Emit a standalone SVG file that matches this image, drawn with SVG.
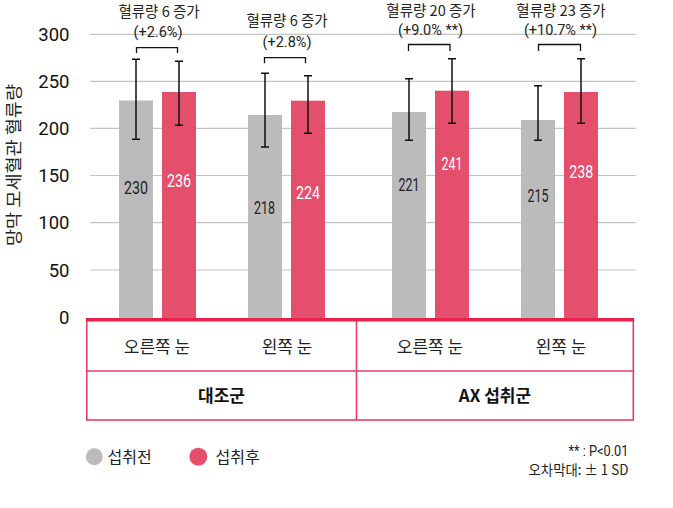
<svg xmlns="http://www.w3.org/2000/svg" width="673" height="508" viewBox="0 0 673 508">
<style>
.grid{stroke:#c4c4c4;stroke-width:1.2}
.tick{font-family:Roboto,"Noto Sans CJK KR",sans-serif;font-size:18.5px;fill:#111;text-anchor:end}
.kr{font-family:"Noto Sans CJK KR","Noto Sans",sans-serif;fill:#222}
.num{font-family:Roboto,"Noto Sans CJK KR",sans-serif}
.before{fill:#bbbbbb}
.after{fill:#e44f6c}
.val{font-family:Roboto,sans-serif;font-size:17.5px;text-anchor:middle}
.eb{stroke:#111;stroke-width:1.5;fill:none}
.br{stroke:#111;stroke-width:1.3;fill:none}
.ann{font-size:14.5px;text-anchor:middle}
.cell{font-size:17px;text-anchor:middle}
.head{font-size:17px;font-weight:bold;text-anchor:middle;fill:#111}
.tbl{stroke:#e63f62;stroke-width:1.6;fill:none}
</style>

<g id="grid">
<line class="grid" x1="90" y1="34.3" x2="636" y2="34.3"/>
<line class="grid" x1="90" y1="81.3" x2="636" y2="81.3"/>
<line class="grid" x1="90" y1="128.3" x2="636" y2="128.3"/>
<line class="grid" x1="90" y1="175.5" x2="636" y2="175.5"/>
<line class="grid" x1="90" y1="222.7" x2="636" y2="222.7"/>
<line class="grid" x1="90" y1="270" x2="636" y2="270"/>
</g>

<g id="y-axis">
<text class="tick" x="69.5" y="41">300</text>
<text class="tick" x="69.5" y="88">250</text>
<text class="tick" x="69.5" y="135">200</text>
<text class="tick" x="69.5" y="182.2">150</text>
<text class="tick" x="69.5" y="229.4">100</text>
<text class="tick" x="69.5" y="276.7">50</text>
<text class="tick" x="69.5" y="324">0</text>
<text class="kr" transform="translate(20,165) rotate(-90)" font-size="17" text-anchor="middle" textLength="162" lengthAdjust="spacingAndGlyphs">망막 모세혈관 혈류량</text>
</g>

<g id="bars">
<g id="bar-ctrl-right-before"><rect class="before" x="119" y="100.5" width="34" height="217.5"/><text class="val" x="136" y="194" fill="#222" textLength="24" lengthAdjust="spacingAndGlyphs">230</text></g>
<g id="bar-ctrl-right-after"><rect class="after" x="162" y="92" width="34" height="226"/><text class="val" x="179" y="187.3" fill="#fff" textLength="24" lengthAdjust="spacingAndGlyphs">236</text></g>
<g id="bar-ctrl-left-before"><rect class="before" x="248" y="115" width="34" height="203"/><text class="val" x="264.5" y="214.3" fill="#222" textLength="21" lengthAdjust="spacingAndGlyphs">218</text></g>
<g id="bar-ctrl-left-after"><rect class="after" x="291" y="100.7" width="34" height="217.3"/><text class="val" x="308" y="199.3" fill="#fff" textLength="24" lengthAdjust="spacingAndGlyphs">224</text></g>
<g id="bar-ax-right-before"><rect class="before" x="392" y="112" width="34" height="206"/><text class="val" x="409" y="190.7" fill="#222" textLength="21" lengthAdjust="spacingAndGlyphs">221</text></g>
<g id="bar-ax-right-after"><rect class="after" x="435" y="90.7" width="34" height="227.3"/><text class="val" x="452" y="170" fill="#fff" textLength="21" lengthAdjust="spacingAndGlyphs">241</text></g>
<g id="bar-ax-left-before"><rect class="before" x="521" y="120" width="34" height="198"/><text class="val" x="538" y="202" fill="#222" textLength="21" lengthAdjust="spacingAndGlyphs">215</text></g>
<g id="bar-ax-left-after"><rect class="after" x="564" y="92" width="34" height="226"/><text class="val" x="581.3" y="178.3" fill="#fff" textLength="24" lengthAdjust="spacingAndGlyphs">238</text></g>
</g>

<g id="connectors">
<path class="eb" d="M136 59.3V139.3M132 59.3H140M132 139.3H140"/>
<path class="eb" d="M179 61.3V125.3M175 61.3H183M175 125.3H183"/>
<path class="eb" d="M265 73.3V147M261 73.3H269M261 147H269"/>
<path class="eb" d="M308 75.7V133.3M304 75.7H312M304 133.3H312"/>
<path class="eb" d="M409 78.7V140.3M405 78.7H413M405 140.3H413"/>
<path class="eb" d="M452 58.7V123.3M448 58.7H456M448 123.3H456"/>
<path class="eb" d="M538 85.7V140.3M534 85.7H542M534 140.3H542"/>
<path class="eb" d="M581 58.7V123.3M577 58.7H585M577 123.3H585"/>
<path class="br" d="M136.5 53V47.7H177.5V53"/>
<path class="br" d="M264.5 63.3V57.7H305.5V63.3"/>
<path class="br" d="M408.5 51V44.5H450V51"/>
<path class="br" d="M538.5 51V44.5H580.5V51"/>
</g>

<g id="annotations">
<text class="kr ann" x="159" y="16.5">혈류량 6 증가</text>
<text class="num ann" x="158" y="37" fill="#222" font-size="14">(+2.6%)</text>
<text class="kr ann" x="287" y="26">혈류량 6 증가</text>
<text class="num ann" x="287" y="46.5" fill="#222" font-size="14">(+2.8%)</text>
<text class="kr ann" x="431" y="15.8">혈류량 20 증가</text>
<text class="num ann" x="430.5" y="35" fill="#222" font-size="14">(+9.0% **)</text>
<text class="kr ann" x="561" y="15.8">혈류량 23 증가</text>
<text class="num ann" x="560.5" y="35" fill="#222" font-size="14">(+10.7% **)</text>
</g>

<g id="table">
<rect class="tbl" x="86.8" y="320" width="546.5" height="100"/>
<line class="tbl" x1="86.8" y1="371" x2="633.3" y2="371"/>
<line class="tbl" x1="356.5" y1="320" x2="356.5" y2="420"/>
<line x1="86" y1="319.8" x2="634" y2="319.8" stroke="#e8204a" stroke-width="3.6"/>
<text class="kr cell" x="157" y="352.5">오른쪽 눈</text>
<text class="kr cell" x="287" y="352.5">왼쪽 눈</text>
<text class="kr cell" x="430" y="352.5">오른쪽 눈</text>
<text class="kr cell" x="561" y="352.5">왼쪽 눈</text>
<text class="kr head" x="221.5" y="402">대조군</text>
<text class="kr head" x="495" y="402">AX 섭취군</text>
</g>

<g id="legend">
<circle cx="94.3" cy="456.7" r="8.5" fill="#bbbbbb"/>
<text class="kr" x="107.5" y="462.5" font-size="16" fill="#555">섭취전</text>
<circle cx="198.3" cy="456.7" r="9" fill="#e44f6c"/>
<text class="kr" x="215.5" y="462.5" font-size="16" fill="#555">섭취후</text>
</g>

<g id="footnote">
<text class="num" x="628.5" y="456" font-size="14" fill="#222" text-anchor="end" textLength="60" lengthAdjust="spacingAndGlyphs">** : P&lt;0.01</text>
<text class="kr" x="628.5" y="474.5" font-size="14" fill="#222" text-anchor="end" textLength="100" lengthAdjust="spacingAndGlyphs">오차막대: ± 1 SD</text>
</g>
</svg>
